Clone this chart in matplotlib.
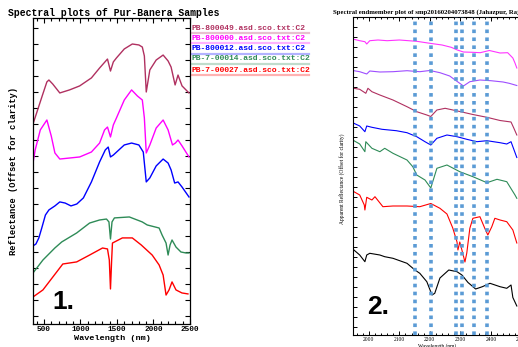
#!/usr/bin/env python3
"""
Two spectral panels side by side: lab spectra (1.) and endmember spectra (2.)
"""
import matplotlib
matplotlib.use("Agg")
import matplotlib.pyplot as plt
from matplotlib.lines import Line2D
from matplotlib.ticker import MultipleLocator

W, H = 518, 347

# ---- panel 1: lab spectra, offset for clarity ----
labels1 = ["PB-800049.asd.sco.txt:C2", "PB-800000.asd.sco.txt:C2",
           "PB-800012.asd.sco.txt:C2", "PB-7-00014.asd.sco.txt:C2",
           "PB-7-00027.asd.sco.txt:C2"]
colors1 = ["#b03060", "#ff00ff", "#0000ff", "#2e8b57", "#ff0000"]

wl_a = [350, 404, 480, 540, 568, 620, 717, 850, 989, 1150, 1262, 1370, 1411,
        1450, 1493, 1600, 1710, 1800, 1847, 1875, 1901, 1950, 2037, 2132,
        2200, 2241, 2296, 2336, 2391, 2486]
pb049 = [12.0, 12.75, 13.81, 14.63, 14.75, 14.5, 13.94, 14.13, 14.38, 14.88,
         15.5, 16.06, 15.31, 15.88, 16.13, 16.69, 17.0, 16.94, 16.81, 16.25,
         14.0, 15.38, 16.0, 16.31, 15.94, 15.56, 14.44, 15.06, 14.38, 13.94]

wl_b = [350, 380, 450, 540, 600, 650, 717, 989, 1150, 1262, 1330, 1370, 1411,
        1450, 1493, 1600, 1700, 1780, 1847, 1875, 1901, 1950, 2037, 2132,
        2200, 2260, 2300, 2336, 2391, 2486]
pb000 = [9.56, 10.38, 11.63, 12.25, 11.25, 10.19, 9.81, 9.94, 10.25, 10.81,
         11.63, 11.81, 11.19, 11.94, 12.38, 13.5, 14.13, 13.75, 13.5, 12.38,
         10.19, 10.69, 11.75, 12.25, 11.63, 10.69, 10.81, 11.0, 10.63, 9.94]

wl_c = [350, 390, 430, 470, 520, 568, 650, 717, 790, 870, 950, 1040, 1150,
        1262, 1340, 1380, 1411, 1450, 1600, 1700, 1800, 1860, 1901, 1950,
        2037, 2132, 2200, 2241, 2290, 2336, 2391, 2486]
pb012 = [4.38, 4.5, 4.88, 5.5, 6.31, 6.63, 6.88, 7.13, 7.06, 6.88, 7.0, 7.38,
         8.38, 9.63, 10.38, 10.56, 9.94, 10.06, 10.69, 10.81, 10.69, 10.25,
         8.38, 8.63, 9.38, 9.81, 9.56, 9.13, 8.31, 8.38, 8.06, 7.44]

wl_d = [350, 486, 649, 744, 948, 1125, 1261, 1356, 1390, 1411, 1432, 1465,
        1669, 1846, 1914, 2077, 2118, 2172, 2200, 2227, 2254, 2308, 2376,
        2444, 2485]
pb7014 = [2.69, 3.5, 4.25, 4.63, 5.19, 5.81, 6.0, 6.06, 5.88, 4.81, 5.88,
          6.13, 6.19, 5.88, 5.69, 5.5, 5.06, 4.56, 3.81, 4.44, 4.75, 4.31,
          4.0, 3.94, 3.94]

wl_e = [350, 486, 622, 758, 948, 1125, 1302, 1370, 1395, 1411, 1427, 1438,
        1574, 1710, 1832, 1982, 2077, 2132, 2172, 2213, 2254, 2308, 2390,
        2472]
pb7027 = [1.19, 1.63, 2.44, 3.25, 3.38, 3.81, 4.25, 4.19, 3.5, 1.69, 3.5,
          4.56, 4.88, 4.88, 4.44, 3.81, 3.19, 2.56, 1.31, 1.63, 2.13, 1.63,
          1.44, 1.38]

# ---- panel 2: endmember spectra ----
colors2 = ["#ff33ff", "#9e4dff", "#b03060", "#0000ff", "#2e8b57", "#ff0000",
           "#000000"]

wl_m = [1951, 1970, 1987, 1993, 2003, 2030, 2060, 2100, 2130, 2157, 2200,
        2240, 2270, 2290, 2310, 2340, 2365, 2395, 2430, 2455, 2472, 2479, 2485]
em_magenta = [28.77, 28.63, 28.53, 28.3, 28.63, 28.7, 28.63, 28.7, 28.63,
              28.57, 28.37, 28.2, 27.97, 27.7, 27.5, 27.47, 27.43, 27.65,
              27.4, 27.43, 26.9, 26.4, 25.9]

wl_p = [1951, 1970, 1993, 2003, 2036, 2079, 2125, 2167, 2200, 2233, 2265,
        2285, 2298, 2310, 2331, 2364, 2400, 2440, 2460, 2485]
em_purple = [25.63, 25.53, 25.3, 25.6, 25.5, 25.53, 25.63, 25.53, 25.65,
             25.43, 25.1, 24.65, 24.37, 24.1, 24.53, 24.7, 24.63, 24.5,
             24.37, 24.15]

wl_r = [1951, 1970, 1990, 1997, 2010, 2036, 2079, 2125, 2157, 2190, 2203,
        2223, 2250, 2298, 2341, 2387, 2430, 2466, 2475, 2485]
em_maroon = [23.87, 23.77, 23.37, 23.87, 23.53, 23.2, 22.7, 22.03, 21.53,
             21.2, 21.05, 21.7, 21.87, 21.55, 21.25, 20.97, 20.65, 20.5,
             19.9, 19.2]

wl_bl = [1951, 1970, 1987, 1993, 2010, 2043, 2090, 2125, 2157, 2184, 2203,
         2223, 2256, 2289, 2321, 2354, 2387, 2430, 2452, 2466, 2476, 2485]
em_blue = [20.37, 20.1, 19.53, 20.1, 19.97, 19.77, 19.63, 19.43, 19.03,
           18.53, 18.2, 18.87, 19.2, 19.03, 18.77, 18.53, 18.63, 18.43, 18.3,
           18.53, 17.7, 16.95]

wl_g = [1951, 1970, 1987, 1990, 2010, 2036, 2052, 2079, 2125, 2144, 2157,
        2184, 2203, 2223, 2256, 2298, 2341, 2387, 2420, 2452, 2479, 2485]
em_green = [18.63, 18.3, 17.53, 18.53, 17.87, 17.53, 17.87, 17.37, 16.7,
            16.03, 15.2, 14.7, 13.9, 15.87, 16.2, 15.53, 15.03, 14.43, 14.77,
            14.53, 13.2, 12.87]

wl_rd = [1951, 1970, 1985, 1987, 1993, 2010, 2020, 2046, 2079, 2125, 2167,
         2203, 2233, 2256, 2275, 2289, 2292, 2298, 2305, 2315, 2321, 2331,
         2341, 2364, 2380, 2390, 2403, 2413, 2430, 2452, 2472, 2485]
em_red = [13.53, 13.2, 12.2, 11.7, 12.97, 12.7, 13.03, 12.03, 12.1, 12.1,
          12.03, 12.35, 11.87, 11.3, 9.9, 8.5, 7.7, 8.5, 7.7, 6.5, 7.4, 9.87,
          10.87, 11.03, 9.87, 9.2, 10.03, 10.87, 10.7, 10.53, 9.7, 8.4]

wl_k = [1951, 1970, 1987, 1993, 2003, 2036, 2052, 2079, 2125, 2151, 2167,
        2190, 2207, 2216, 2233, 2262, 2289, 2305, 2325, 2350, 2372, 2397,
        2430, 2452, 2466, 2472, 2485]
em_black = [7.7, 7.2, 6.53, 7.2, 7.37, 7.2, 7.03, 6.87, 6.37, 5.7, 5.37,
            4.53, 3.2, 3.37, 4.9, 5.7, 5.53, 5.2, 4.45, 3.8, 4.03, 4.37, 4.03,
            3.87, 4.2, 2.95, 2.1]

# absorption feature markers
feature_wl = [2152, 2203, 2286, 2305, 2345, 2387]

MONO = "Liberation Mono"
SERIF = "Liberation Serif"


def fx(px):
    return px / W


def fy(py):
    return 1 - py / H


def panel_one(fig):
    ax = fig.add_axes([fx(33), fy(324), fx(190) - fx(33), fy(18) - fy(324)])
    series = [(wl_a, pb049), (wl_b, pb000), (wl_c, pb012), (wl_d, pb7014),
              (wl_e, pb7027)]
    for (wl, refl), c in zip(series, colors1):
        ax.plot(wl, refl, color=c, lw=1.0)
    ax.set_xlim(350, 2500)
    ax.set_ylim(-0.5, 18.625)
    ax.xaxis.set_major_locator(MultipleLocator(500))
    ax.xaxis.set_minor_locator(MultipleLocator(100))
    ax.yaxis.set_major_locator(MultipleLocator(1))
    ax.tick_params(which="both", direction="in", top=True, right=True,
                   width=0.8, labelleft=False)
    ax.tick_params(which="major", length=3.5, pad=1.5)
    ax.tick_params(which="minor", length=2)
    for lab in ax.get_xticklabels():
        lab.set_fontfamily(MONO)
        lab.set_fontweight("bold")
        lab.set_fontsize(5.6)
    for s in ax.spines.values():
        s.set_linewidth(0.9)

    fig.text(fx(8), fy(13), "Spectral plots of Pur-Banera Samples",
             family=MONO, weight="bold", fontsize=7, ha="left", va="center")
    fig.text(fx(112), fy(338), "Wavelength (nm)", family=MONO, weight="bold",
             fontsize=6.1, ha="center", va="center")
    fig.text(fx(14), fy(171), "Reflectance (Offset for clarity)", family=MONO,
             weight="bold", fontsize=6.3, rotation=90, ha="center", va="center")
    # legend text, one row per sample with a pale underline
    for i, (lab, c) in enumerate(zip(labels1, colors1)):
        yc = [28, 38, 49, 59, 70][i]
        fig.text(fx(192), fy(yc), lab, family=MONO, weight="bold",
                 fontsize=5.8, color=c, ha="left", va="center")
        fig.add_artist(Line2D([fx(192), fx(309)], [fy(yc + 4.5)] * 2,
                              color=c, alpha=0.3, lw=1.6))
    fig.text(fx(52), fy(302), "1.", family="Liberation Sans", weight="bold",
             fontsize=19, ha="left", va="center")


def panel_two(fig):
    ax = fig.add_axes([fx(353), fy(335), (540 - 353) / W, fy(17) - fy(335)])
    series = [(wl_m, em_magenta), (wl_p, em_purple), (wl_r, em_maroon),
              (wl_bl, em_blue), (wl_g, em_green), (wl_rd, em_red),
              (wl_k, em_black)]
    for (wl, refl), c in zip(series, colors2):
        ax.plot(wl, refl, color=c, lw=0.8)
    for w in feature_wl:
        ax.axvline(w, color="#5b9bd5", lw=2.6, linestyle=(0, (1, 1.2)),
                   zorder=5)
    ax.set_xlim(1948, 2561)
    ax.set_ylim(-0.8, 31.0)
    ax.xaxis.set_major_locator(MultipleLocator(100))
    ax.xaxis.set_minor_locator(MultipleLocator(20))
    ax.yaxis.set_major_locator(MultipleLocator(1))
    ax.tick_params(which="both", direction="in", top=True, right=True,
                   width=0.7, labelleft=False)
    ax.tick_params(which="major", length=3, pad=1.5)
    ax.tick_params(which="minor", length=1.6)
    for lab in ax.get_xticklabels():
        lab.set_fontfamily(SERIF)
        lab.set_fontsize(4)
    for s in ax.spines.values():
        s.set_linewidth(0.8)

    fig.text(fx(333), fy(12),
             "Spectral endmember plot of smp20160204073848 (Jahazpur, Rajasthan)",
             family=SERIF, weight="bold", fontsize=4.9, ha="left", va="center")
    fig.text(fx(437), fy(346), "Wavelength (nm)", family=SERIF, fontsize=4,
             ha="center", va="center")
    fig.text(fx(342), fy(179), "Apparent Reflectance (Offset for clarity)",
             family=SERIF, fontsize=4, rotation=90, ha="center", va="center")
    fig.text(fx(367), fy(307), "2.", family="Liberation Sans", weight="bold",
             fontsize=19, ha="left", va="center")


def main():
    fig = plt.figure(figsize=(W / 100, H / 100), dpi=100)
    fig.patch.set_facecolor("white")
    panel_one(fig)
    panel_two(fig)
    fig.savefig("out.png", dpi=100)


if __name__ == '__main__':
    main()
